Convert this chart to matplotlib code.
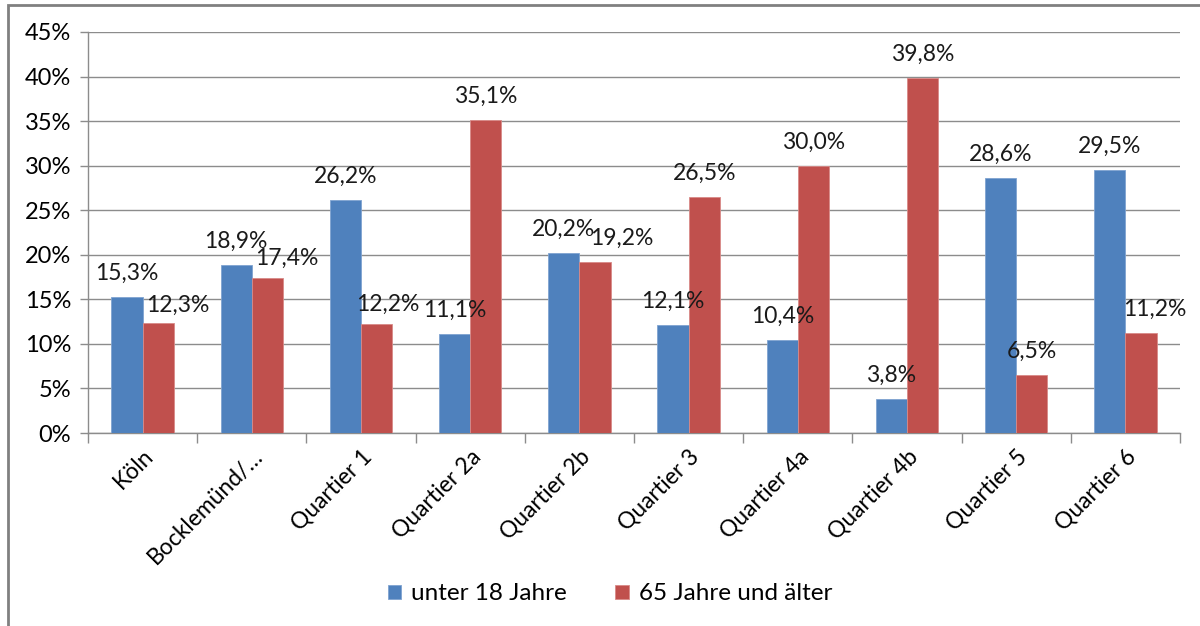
import matplotlib
matplotlib.use("Agg")
import matplotlib.pyplot as plt
from matplotlib.patches import Rectangle
from matplotlib.ticker import MultipleLocator, FixedLocator
import numpy as np

categories = ["Köln", "Bocklemünd/…", "Quartier 1", "Quartier 2a", "Quartier 2b",
              "Quartier 3", "Quartier 4a", "Quartier 4b", "Quartier 5", "Quartier 6"]
unter_18 = [15.3, 18.9, 26.2, 11.1, 20.2, 12.1, 10.4, 3.8, 28.6, 29.5]
ab_65 = [12.3, 17.4, 12.2, 35.1, 19.2, 26.5, 30.0, 39.8, 6.5, 11.2]
series_names = ["unter 18 Jahre", "65 Jahre und älter"]

# label nudges (points) for the second series where labels were moved aside
label_dx_65 = [14, 14, 8, 0, 19, 0, 0, 0, 0, 10]
label_dy_65 = [-4, -3, -3, 0, 0, 0, 0, 0, 0, 0]

BLUE = "#4F81BD"
RED = "#C0504D"
GRID = "#8C8C8C"
FONT = "Lato"

plt.rcParams["font.family"] = [FONT, "DejaVu Sans"]

fig = plt.figure(figsize=(12, 6.26), dpi=100)
ax = fig.add_axes([88 / 1200, 1 - 433 / 626, (1180 - 88) / 1200, (433 - 32) / 626])

x = np.arange(len(categories))
w = 0.285
b1 = ax.bar(x - w / 2, unter_18, w, color=BLUE, edgecolor="#7FA3D0", linewidth=0.6,
            label=series_names[0], zorder=3)
b2 = ax.bar(x + w / 2, ab_65, w, color=RED, edgecolor="#D88A88", linewidth=0.6,
            label=series_names[1], zorder=3)

def fmt(v):
    return f"{v:.1f}".replace(".", ",") + "%"

LBL = 16.5
for xi, v in zip(x, unter_18):
    ax.annotate(fmt(v), (xi - w / 2, v), xytext=(0, 17), textcoords="offset points",
                ha="center", va="center", fontsize=LBL, color="#1A1A1A", zorder=4)
for xi, v, dx, dy in zip(x, ab_65, label_dx_65, label_dy_65):
    ax.annotate(fmt(v), (xi + w / 2, v), xytext=(dx, 17 + dy), textcoords="offset points",
                ha="center", va="center", fontsize=LBL, color="#1A1A1A", zorder=4)

ax.set_xlim(-0.5, len(categories) - 0.5)
ax.set_ylim(0, 45)
ax.yaxis.set_major_locator(MultipleLocator(5))
ax.set_yticklabels([f"{int(t)}%" for t in ax.get_yticks()])
ax.grid(axis="y", color=GRID, linewidth=1.0, zorder=0)
ax.set_axisbelow(True)

# category boundary ticks on the x axis, names centred under each group
ax.xaxis.set_major_locator(FixedLocator(np.arange(-0.5, len(categories), 1.0)))
ax.xaxis.set_minor_locator(FixedLocator(x))
ax.set_xticklabels([])
ax.set_xticklabels(categories, minor=True, rotation=45, ha="right", va="top",
                   rotation_mode="anchor", fontsize=16.5)
ax.tick_params(axis="x", which="major", length=7, color=GRID, width=1.0)
ax.tick_params(axis="x", which="minor", length=0, pad=9)
ax.tick_params(axis="y", length=6, color=GRID, width=1.0, labelsize=17, pad=6)

for s in ["top", "right"]:
    ax.spines[s].set_visible(False)
for s in ["left", "bottom"]:
    ax.spines[s].set_color(GRID)
    ax.spines[s].set_linewidth(1.0)

leg = fig.legend(handles=[b1, b2], labels=series_names, loc="center",
                 bbox_to_anchor=(610 / 1200, 1 - 594 / 626), ncol=2, frameon=False,
                 fontsize=17.5, handlelength=0.55, handleheight=0.55, handletextpad=0.4,
                 columnspacing=2.0)

# outer chart frame
fig.add_artist(Rectangle((8 / 1200, -0.2), 1.2, 1.2 - 5 / 626, transform=fig.transFigure,
                         fill=False, edgecolor="#808080", linewidth=2.0))

fig.savefig("out.png", dpi=100, facecolor="white")
